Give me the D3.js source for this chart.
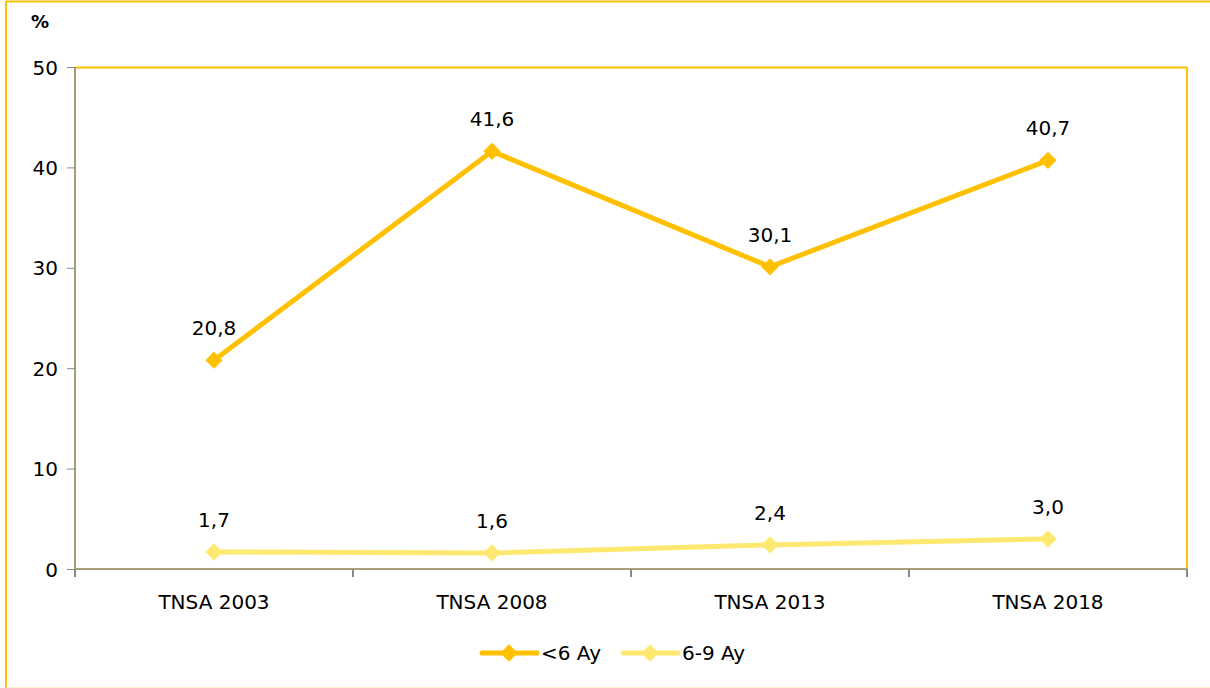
<!DOCTYPE html>
<meta charset="utf-8">
<script src="https://d3js.org/d3.v7.min.js"></script>
<style>
  body { margin: 0; background: #fff; }
  text { font-family: "DejaVu Sans", Verdana, sans-serif; fill: #000; }
</style>
<div id="chart"></div>
<script>
    // data
    const surveys = ["TNSA 2003", "TNSA 2008", "TNSA 2013", "TNSA 2018"];
    const under6 = [20.8, 41.6, 30.1, 40.7];
    const from6to9 = [1.7, 1.6, 2.4, 3.0];
    const yTicks = [0, 10, 20, 30, 40, 50];
    const seriesNames = ["<6 Ay", "6-9 Ay"];
    const seriesColors = ["#FFC000", "#FFE870"];

    const W = 1210, H = 688;
    const margin = {top: 67, right: 23, bottom: 119, left: 75},
        width = W - margin.left - margin.right,
        height = H - margin.top - margin.bottom;

    const svg = d3.select("#chart")
        .append("svg")
        .attr("width", W)
        .attr("height", H);

    // outer frame
    svg.append("line").attr("x1", 6).attr("x2", 6).attr("y1", 1).attr("y2", 688)
        .attr("stroke", "#FFC000").attr("stroke-width", 2);
    svg.append("line").attr("x1", 6).attr("x2", W).attr("y1", 1.5).attr("y2", 1.5)
        .attr("stroke", "#FFC000").attr("stroke-width", 2);
    svg.append("line").attr("x1", 6).attr("x2", W).attr("y1", 687.5).attr("y2", 687.5)
        .attr("stroke", "#FFEFC8").attr("stroke-width", 1);

    const g = svg.append("g")
        .attr("transform", `translate(${margin.left},${margin.top})`);

    const x = d3.scaleBand().domain(surveys).range([0, width]);
    const y = d3.scaleLinear().domain([0, 50]).range([height, 0]);

    // plot border (top / right)
    g.append("path")
        .attr("d", `M0,0.5H${width}V${height}`)
        .attr("fill", "none").attr("stroke", "#FFC000").attr("stroke-width", 2);

    // y axis
    const yAxis = g.append("g")
        .call(d3.axisLeft(y).tickValues(yTicks).tickSize(8).tickPadding(9));
    yAxis.select(".domain").attr("stroke", "#A89B78").attr("stroke-width", 2).attr("d", `M0,0V${height}`);
    yAxis.selectAll(".tick line").attr("stroke", "#888");
    yAxis.selectAll(".tick text").style("font-size", "20px").attr("dy", "0.35em");

    // x axis
    const xAxis = g.append("g")
        .attr("transform", `translate(0,${height})`)
        .call(d3.axisBottom(x).tickSize(0).tickPadding(26));
    xAxis.select(".domain").attr("stroke", "#A89B78").attr("stroke-width", 2).attr("d", `M0,0H${width}`);
    xAxis.selectAll(".tick text").style("font-size", "20px");
    // category boundary ticks
    const bounds = surveys.map(s => x(s)).concat([width]);
    xAxis.selectAll(".bound").data(bounds).join("line")
        .attr("class", "bound")
        .attr("x1", d => d).attr("x2", d => d)
        .attr("y1", 0).attr("y2", 8)
        .attr("stroke", "#888").attr("stroke-width", 2);

    // % label
    svg.append("text").attr("x", 40).attr("y", 28)
        .attr("text-anchor", "middle")
        .style("font-size", "18px").style("font-weight", "bold")
        .text("%");

    const cx = d => x(d) + x.bandwidth() / 2;
    const line = d3.line().x(d => cx(d[0])).y(d => y(d[1]));
    const diamond = d3.symbol().type(d3.symbolDiamond2).size(190);

    const series = [under6, from6to9];
    series.forEach((vals, i) => {
        const pts = surveys.map((s, j) => [s, vals[j]]);
        g.append("path")
            .datum(pts)
            .attr("d", line)
            .attr("fill", "none")
            .attr("stroke", seriesColors[i])
            .attr("stroke-width", 5);
        g.selectAll(".pt" + i).data(pts).join("path")
            .attr("class", "pt" + i)
            .attr("transform", d => `translate(${cx(d[0])},${y(d[1])})`)
            .attr("d", diamond)
            .attr("fill", seriesColors[i]);
        g.selectAll(".lbl" + i).data(pts).join("text")
            .attr("class", "lbl" + i)
            .attr("x", d => cx(d[0]))
            .attr("y", d => y(d[1]) - 25)
            .attr("text-anchor", "middle")
            .style("font-size", "20px")
            .text(d => d3.format(".1f")(d[1]).replace(".", ","));
    });

    // legend
    const legendX = [482, 623];
    const legendY = 653;
    seriesNames.forEach((name, i) => {
        const lg = svg.append("g").attr("transform", `translate(${legendX[i]},${legendY})`);
        lg.append("line").attr("x1", 0).attr("x2", 55).attr("y1", 0).attr("y2", 0)
            .attr("stroke", seriesColors[i]).attr("stroke-width", 5).attr("stroke-linecap", "round");
        lg.append("path").attr("transform", "translate(27,0)").attr("d", diamond).attr("fill", seriesColors[i]);
        lg.append("text").attr("x", 59).attr("y", 0).attr("dy", "0.35em")
            .style("font-size", "20px").text(name);
    });
</script>
